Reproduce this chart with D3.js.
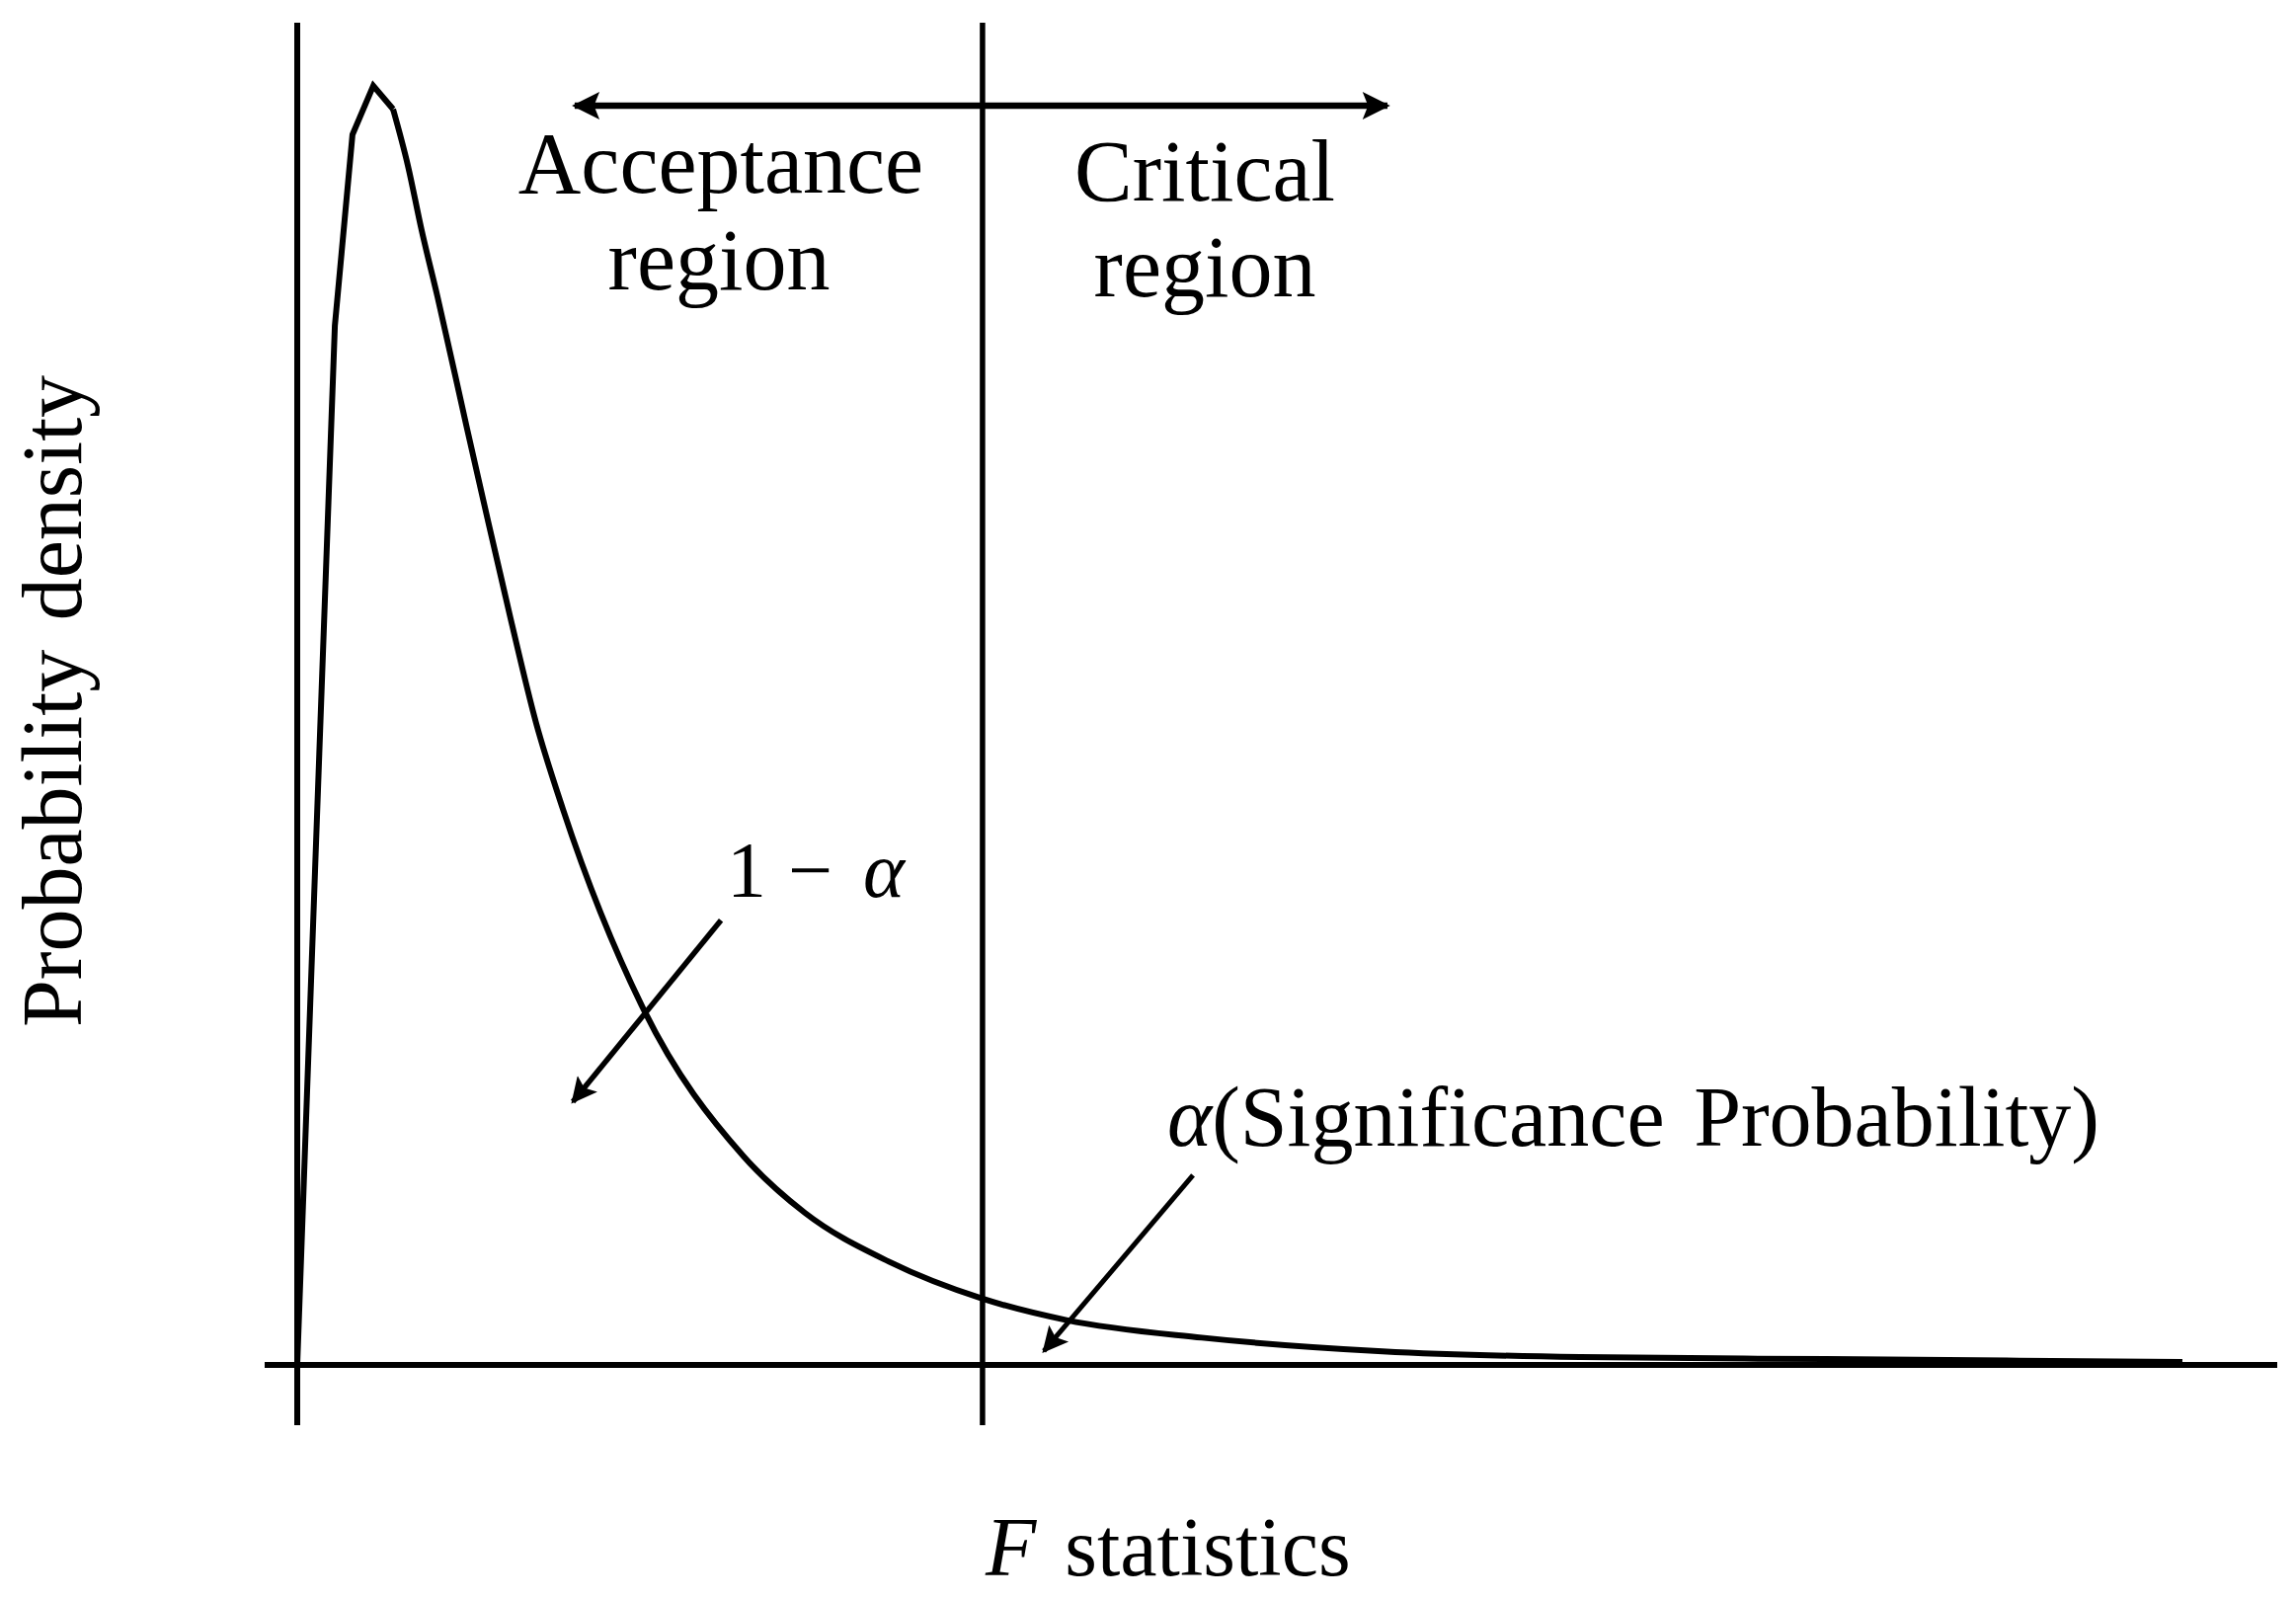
<!DOCTYPE html>
<html>
<head>
<meta charset="utf-8">
<script src="https://cdn.jsdelivr.net/npm/d3@7"></script>
<style>
    body { margin: 0; background: #fff; }
    svg { display: block; }
    text { font-family: "Liberation Serif", "Times New Roman", serif; fill: #000; }
</style>
</head>
<body>
<svg id="chart" width="2325" height="1620"></svg>
<script>
// F distribution sketch: density curve
const fValues = [0, 0.09, 0.19, 0.279, 0.384, 0.484, 0.559, 0.628, 0.708, 0.858, 0.943, 1.077,
    1.207, 1.342, 1.751, 2.254, 2.564, 2.988, 3.461, 3.885, 4.569, 5.481, 6.479, 7.726, 9.521];
const densities = [0, 0.254, 0.533, 0.631, 0.656, 0.644, 0.615, 0.582, 0.548, 0.480, 0.442, 0.383,
    0.329, 0.285, 0.182, 0.107, 0.078, 0.053, 0.034, 0.023, 0.014, 0.007, 0.004, 0.003, 0.0015];

// the rise and the peak are drawn as straight segments, the tail smooth
const kneeIndex = 5;

// critical value splitting the two regions
const criticalF = 3.461;

// annotation arrows, in data units: [from, to]
const regionArrow = [[1.401, 0.6458], [5.506, 0.6458]];
const acceptArrow = [[2.140, 0.228], [1.392, 0.135]];
const alphaArrow = [[4.524, 0.0973], [3.771, 0.0071]];

const xDomain = [0, 10];
const yDomain = [0, 0.7];

class FChart {
    constructor(selector) {
        this.svg = d3.select(selector);
        this.x = d3.scaleLinear().domain(xDomain).range([301, 2306]);
        this.y = d3.scaleLinear().domain(yDomain).range([1382, 0]);
        this.top = 23;
        this.bottom = 1443;
        this.defs();
        this.drawAxes();
        this.drawCurve();
        this.drawArrows();
        this.drawLabels();
    }

    defs() {
        const defs = this.svg.append('defs');
        const head = (id, w, h) => defs.append('marker')
            .attr('id', id)
            .attr('viewBox', '0 0 10 10')
            .attr('refX', 9).attr('refY', 5)
            .attr('markerUnits', 'userSpaceOnUse')
            .attr('markerWidth', w).attr('markerHeight', h)
            .attr('orient', 'auto-start-reverse')
            .append('path')
            .attr('d', 'M0,0 L10,5 L0,10 L2,5 Z')
            .attr('fill', '#000');
        head('headBig', 30, 28);
        head('headSmall', 32, 26);
    }

    drawAxes() {
        const g = this.svg.append('g').attr('stroke', '#000').attr('stroke-width', 6);
        // horizontal axis runs a bit past the origin
        g.append('line')
            .attr('x1', this.x(0) - 33).attr('x2', this.x(xDomain[1]))
            .attr('y1', this.y(0)).attr('y2', this.y(0));
        // vertical axis
        g.append('line')
            .attr('x1', this.x(0)).attr('x2', this.x(0))
            .attr('y1', this.top).attr('y2', this.bottom);
        // critical value line
        g.append('line')
            .attr('x1', this.x(criticalF)).attr('x2', this.x(criticalF))
            .attr('y1', this.top).attr('y2', this.bottom)
            .attr('stroke-width', 5.5);
    }

    drawCurve() {
        const pts = fValues.map((f, i) => [f, densities[i]]);
        const straight = d3.line()
            .x(d => this.x(d[0]))
            .y(d => this.y(d[1]));
        const smooth = d3.line()
            .x(d => this.x(d[0]))
            .y(d => this.y(d[1]))
            .curve(d3.curveMonotoneX);

        const g = this.svg.append('g')
            .attr('fill', 'none')
            .attr('stroke', '#000')
            .attr('stroke-width', 6)
            .attr('stroke-linejoin', 'miter');
        g.append('path').datum(pts.slice(0, kneeIndex + 1)).attr('d', straight);
        g.append('path').datum(pts.slice(kneeIndex)).attr('d', smooth);
    }

    arrow(seg, marker, width, both) {
        const l = this.svg.append('line')
            .attr('x1', this.x(seg[0][0])).attr('y1', this.y(seg[0][1]))
            .attr('x2', this.x(seg[1][0])).attr('y2', this.y(seg[1][1]))
            .attr('stroke', '#000')
            .attr('stroke-width', width)
            .attr('marker-end', `url(#${marker})`);
        if (both) l.attr('marker-start', `url(#${marker})`);
    }

    drawArrows() {
        this.arrow(regionArrow, 'headBig', 6.5, true);
        this.arrow(acceptArrow, 'headSmall', 5.5, false);
        this.arrow(alphaArrow, 'headSmall', 5, false);
    }

    drawLabels() {
        const t = (x, y, size, anchor) => this.svg.append('text')
            .attr('x', x).attr('y', y)
            .attr('font-size', size)
            .attr('text-anchor', anchor);

        t(730, 195, 88, 'middle').text('Acceptance');
        t(728, 293, 88, 'middle').text('region');
        t(1220, 203, 88, 'middle').text('Critical');
        t(1220, 300, 88, 'middle').text('region');

        // 1 − α, pieces placed like the math typesetting
        const one = t(738, 908, 80, 'start');
        one.append('tspan').attr('x', 736).text('1');
        one.append('tspan').attr('x', 798).text('\u2212');
        one.append('tspan').attr('x', 874).attr('font-style', 'italic').text('\u03b1');

        const sig = t(1182, 1160, 86, 'start').attr('word-spacing', 8);
        sig.append('tspan').attr('font-style', 'italic').text('\u03b1');
        sig.append('tspan').text('(Significance Probability)');

        const xl = t(998, 1595, 84, 'start').attr('word-spacing', 8);
        xl.append('tspan').attr('font-style', 'italic').text('F');
        xl.append('tspan').text(' statistics');

        t(0, 0, 86, 'middle')
            .attr('transform', 'translate(82,710) rotate(-90)')
            .attr('word-spacing', 8)
            .text('Probability density');
    }
}

new FChart('#chart');
</script>
</body>
</html>
